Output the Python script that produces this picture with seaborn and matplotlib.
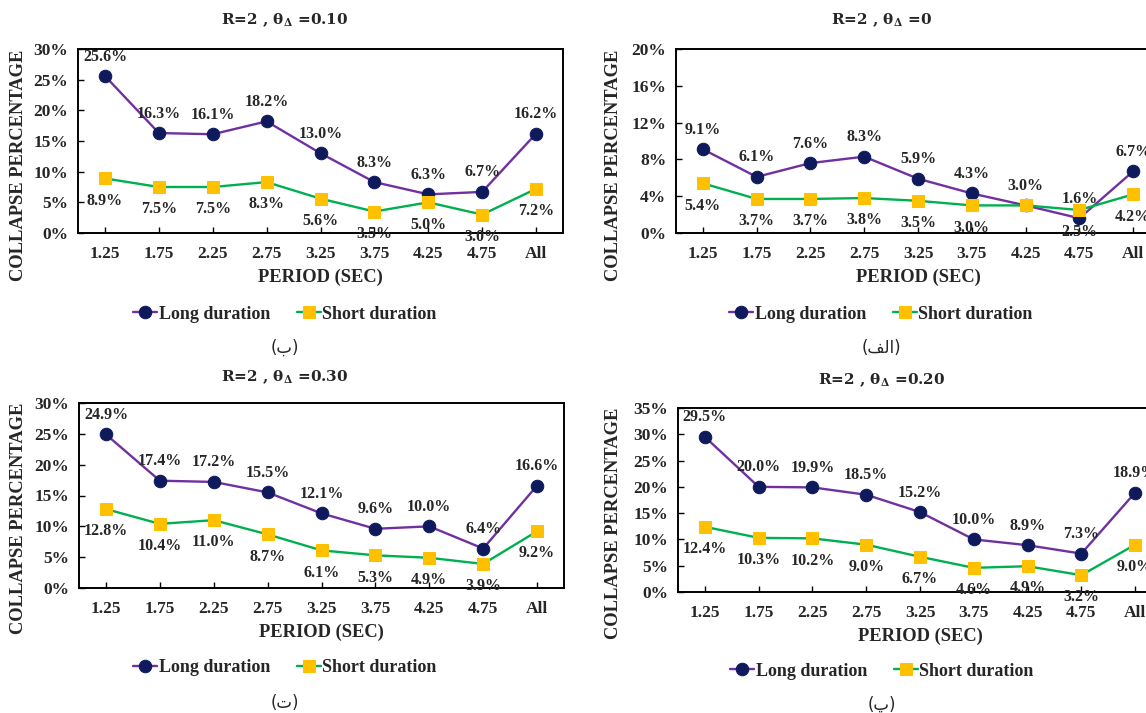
import matplotlib
matplotlib.use("Agg")
import matplotlib.pyplot as plt
import seaborn as sns
import pandas as pd
from matplotlib.ticker import FuncFormatter, MultipleLocator

# ---------------- data ----------------
periods = ["1.25", "1.75", "2.25", "2.75", "3.25", "3.75", "4.25", "4.75", "All"]

long_000 = [9.1, 6.1, 7.6, 8.3, 5.9, 4.3, 3.0, 1.6, 6.7]
short_000 = [5.4, 3.7, 3.7, 3.8, 3.5, 3.0, 3.0, 2.5, 4.2]

long_010 = [25.6, 16.3, 16.1, 18.2, 13.0, 8.3, 6.3, 6.7, 16.2]
short_010 = [8.9, 7.5, 7.5, 8.3, 5.6, 3.5, 5.0, 3.0, 7.2]

long_020 = [29.5, 20.0, 19.9, 18.5, 15.2, 10.0, 8.9, 7.3, 18.9]
short_020 = [12.4, 10.3, 10.2, 9.0, 6.7, 4.6, 4.9, 3.2, 9.0]

long_030 = [24.9, 17.4, 17.2, 15.5, 12.1, 9.6, 10.0, 6.4, 16.6]
short_030 = [12.8, 10.4, 11.0, 8.7, 6.1, 5.3, 4.9, 3.9, 9.2]

# which short-duration labels are shown (one is hidden in the θ=0 panel)
short_000_show = [True, True, True, True, True, True, False, True, True]

titles = {"010": "0.10", "000": "0", "030": "0.30", "020": "0.20"}
panel_tags = {
    "010": "(\u0628)",                       # (ب)
    "000": "(\ufed2\ufedf\ufe8d)",           # (الف) in visual order
    "030": "(\u062a)",                       # (ت)
    "020": "(\u067e)",                       # (پ)
}
ymax = {"010": 30, "000": 20, "030": 30, "020": 35}
ystep = {"010": 5, "000": 4, "030": 5, "020": 5}

series = {
    "010": (long_010, short_010, [True] * 9),
    "000": (long_000, short_000, short_000_show),
    "030": (long_030, short_030, [True] * 9),
    "020": (long_020, short_020, [True] * 9),
}

# ---------------- style ----------------
sns.set_style("white")
plt.rcParams["font.family"] = ["Liberation Serif", "DejaVu Sans"]
plt.rcParams["font.weight"] = "bold"
plt.rcParams["mathtext.fontset"] = "dejavuserif"

W, H = 1146, 713
fig = plt.figure(figsize=(W / 100, H / 100), dpi=100)

LONG_LINE = "#7030A0"
LONG_MARK = "#0E1A5C"
SHORT_LINE = "#00B050"
SHORT_MARK = "#FFC000"

# pixel layout: left, right, top, bottom of plot frame; title y; legend y; tag y; centre x;
# ylabel right edge x (yx) and centre y (yy)
layout = {
    "010": dict(l=78, r=563, t=49, b=233, ty=20, ly=314, gy=348, cx=285, yx=27, yy=165),
    "000": dict(l=676, r=1160, t=49, b=233, ty=20, ly=314, gy=348, cx=881, yx=622, yy=165),
    "030": dict(l=79, r=564, t=403, b=588, ty=377, ly=668, gy=703, cx=285, yx=27, yy=518),
    "020": dict(l=678, r=1162, t=408, b=592, ty=380, ly=671, gy=705, cx=882, yx=622, yy=523),
}

for key, lay in layout.items():
    lv, sv, show = series[key]
    ax = fig.add_axes([lay["l"] / W, 1 - lay["b"] / H,
                       (lay["r"] - lay["l"]) / W, (lay["b"] - lay["t"]) / H])
    df_long = pd.DataFrame({"period": periods, "value": lv})
    df_short = pd.DataFrame({"period": periods, "value": sv})

    sns.lineplot(data=df_long, x="period", y="value", ax=ax, sort=False,
                 color=LONG_LINE, linewidth=1.7, marker="o", markersize=9,
                 markerfacecolor=LONG_MARK, markeredgecolor=LONG_MARK,
                 label="Long duration", zorder=3)
    sns.lineplot(data=df_short, x="period", y="value", ax=ax, sort=False,
                 color=SHORT_LINE, linewidth=1.7, marker="s", markersize=8.5,
                 markerfacecolor=SHORT_MARK, markeredgecolor=SHORT_MARK,
                 label="Short duration", zorder=3)

    for i, v in enumerate(lv):
        ax.annotate(f"{v:.1f}%", (i, v), xytext=(0, 14), textcoords="offset points",
                    ha="center", va="center", fontsize=11.5, fontweight="bold",
                    annotation_clip=False)
    for i, v in enumerate(sv):
        if show[i]:
            ax.annotate(f"{v:.1f}%", (i, v), xytext=(0, -16), textcoords="offset points",
                        ha="center", va="center", fontsize=11.5, fontweight="bold",
                        annotation_clip=False)

    ax.set_xlim(-0.5, len(periods) - 0.5)
    ax.set_ylim(0, ymax[key])
    ax.yaxis.set_major_locator(MultipleLocator(ystep[key]))
    ax.yaxis.set_major_formatter(FuncFormatter(lambda v, p: f"{v:.0f}%"))
    ax.tick_params(axis="both", labelsize=12.5, length=4, width=1, direction="in",
                   bottom=True, left=True, color="black")
    ax.tick_params(axis="x", pad=9.5)
    ax.tick_params(axis="y", pad=7)
    for lab in ax.get_xticklabels() + ax.get_yticklabels():
        lab.set_fontweight("bold")
    for s in ax.spines.values():
        s.set_color("black")
        s.set_linewidth(1.4)
    ax.grid(False)

    ax.set_xlabel("PERIOD (SEC)", fontsize=13.3, fontweight="bold", labelpad=5)
    ax.set_ylabel("COLLAPSE PERCENTAGE", fontsize=13.3, fontweight="bold")
    ax.yaxis.set_label_coords((lay["yx"] - lay["l"]) / (lay["r"] - lay["l"]),
                              (lay["b"] - lay["yy"]) / (lay["b"] - lay["t"]))

    handles, labels = ax.get_legend_handles_labels()
    ax.get_legend().remove()
    fig.legend(handles, labels, loc="center", ncol=2,
               bbox_to_anchor=(lay["cx"] / W, 1 - lay["ly"] / H),
               frameon=False, prop={"size": 13, "weight": "bold"},
               handlelength=1.3, handletextpad=0.1, columnspacing=1.5)

    fig.text(lay["cx"] / W, 1 - lay["ty"] / H,
             r"R=2 , θ$_\mathbf{\Delta}$ =" + titles[key],
             ha="center", va="center", fontsize=11, fontweight="bold",
             family=["DejaVu Serif"])
    fig.text(lay["cx"] / W, 1 - lay["gy"] / H, panel_tags[key],
             ha="center", va="center", fontsize=12, fontweight="normal",
             family=["DejaVu Sans"])

fig.savefig("out.png", dpi=100)
